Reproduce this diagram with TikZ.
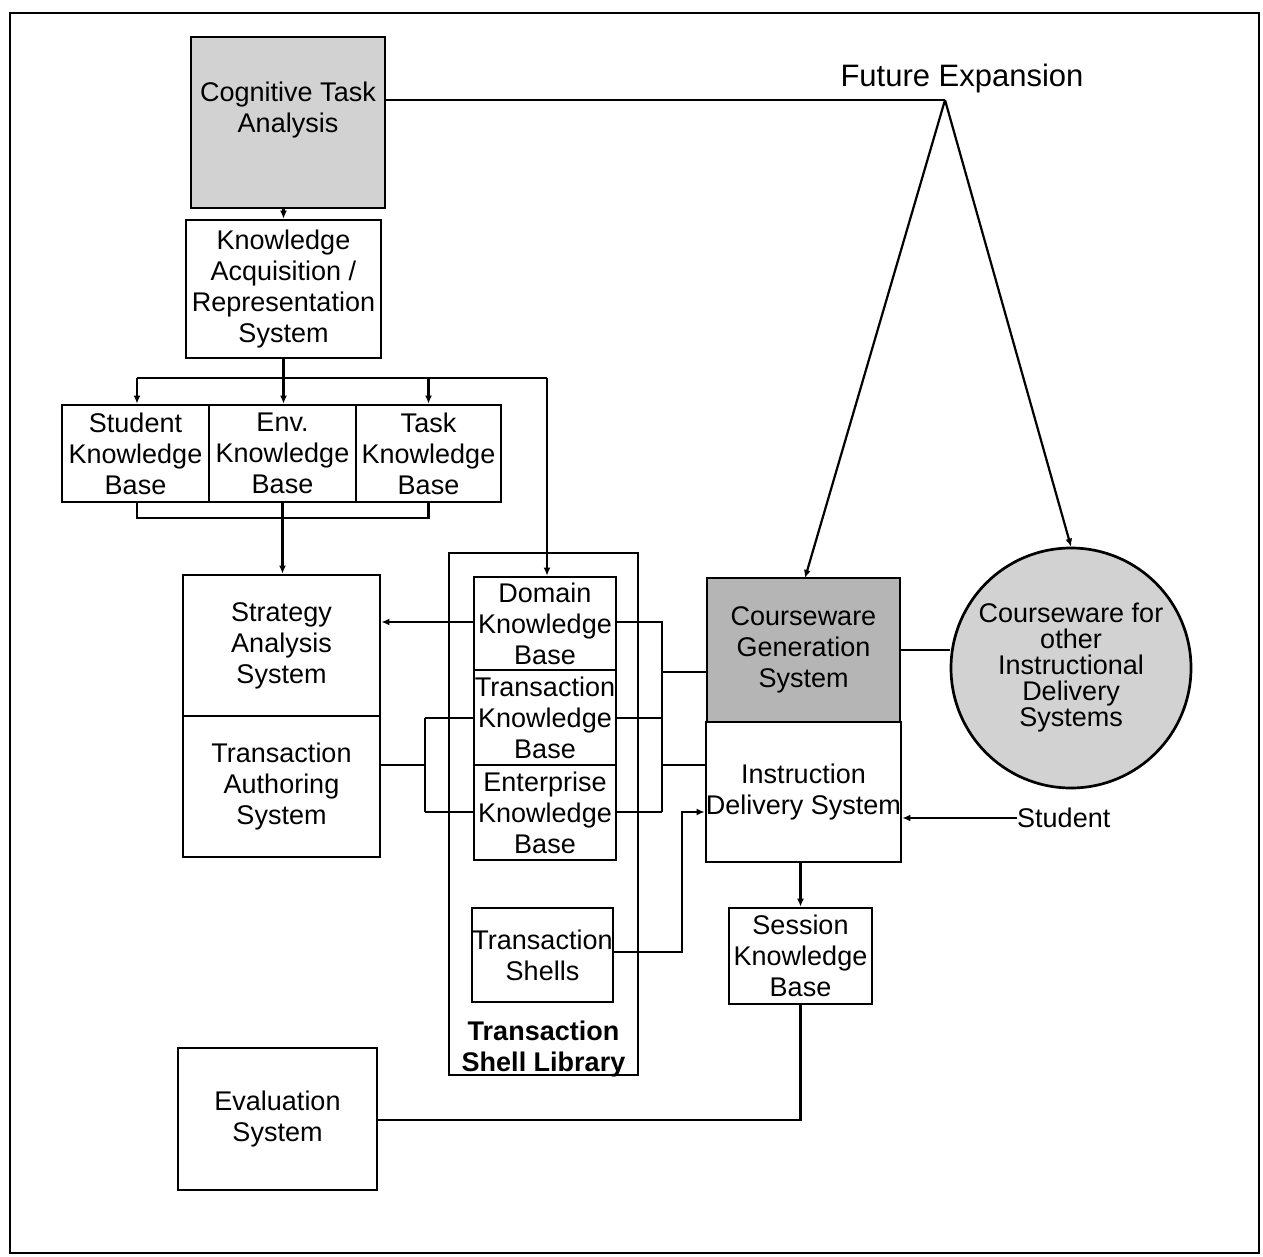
\documentclass[tikz,border=0pt]{standalone}
\usepackage{fontspec}
\setmainfont{Liberation Sans}
\usetikzlibrary{arrows.meta,calc}
\newcommand\diagfont{\fontsize{27}{31}\selectfont}
\begin{document}
\begin{tikzpicture}[x=1pt,y=-1pt,
  box/.style={draw, line width=2.7pt, inner sep=0pt, align=center, font=\diagfont},
  txt/.style={inner sep=0pt, align=center, font=\diagfont},
  link/.style={line width=2.2pt},
  arr/.style={line width=2.2pt, -{Latex[length=8pt,width=7pt]}},
  light/.style={fill=gray!35},
  dark/.style={fill=gray!58}]

% page and outer frame
\useasboundingbox (0,0) rectangle (1263,1257);
\draw[line width=2.6pt] (10,13) rectangle (1259,1253);

% left column
\node[box, light, minimum width=194pt, minimum height=171pt] (cta) at (288,122.5)
  {Cognitive Task\\Analysis\\\mbox{}};
\node[box, minimum width=195pt, minimum height=138pt] (kars) at (283.5,289)
  {Knowledge\\Acquisition /\\Representation\\System};

\node[box, minimum width=147pt, minimum height=97pt] (skb) at (135.5,453.5)
  {Student\\Knowledge\\Base};
\node[box, minimum width=147pt, minimum height=97pt] (ekbase) at (282.5,453.5)
  {Env.\\Knowledge\\Base};
\node[box, minimum width=145pt, minimum height=97pt] (tkbase) at (428.5,453.5)
  {Task\\Knowledge\\Base};

\node[box, minimum width=197pt, minimum height=141pt] (sas) at (281.5,645.5)
  {Strategy\\Analysis\\System};
\node[box, minimum width=197pt, minimum height=141pt] (tas) at (281.5,786.5)
  {Transaction\\Authoring\\System};
\node[box, minimum width=199pt, minimum height=142pt] (eval) at (277.5,1119)
  {Evaluation\\System};

% transaction shell library
\node[draw, line width=2.7pt, minimum width=189pt, minimum height=522pt] (tsl) at (543.5,814) {};
\node[txt, font=\diagfont\bfseries, anchor=south] (tsllabel) at (543.5,1077)
  {Transaction\\Shell Library};
\node[box, fill=white, minimum width=142pt, minimum height=93pt] (dkb) at (545,623.5)
  {Domain\\Knowledge\\Base};
\node[box, fill=white, minimum width=142pt, minimum height=95pt] (trkb) at (545,717.5)
  {Transaction\\Knowledge\\Base};
\node[box, fill=white, minimum width=142pt, minimum height=95pt] (entkb) at (545,812.5)
  {Enterprise\\Knowledge\\Base};
\node[box, fill=white, minimum width=141pt, minimum height=94pt] (tsh) at (542.5,955)
  {Transaction\\Shells};

% right column
\node[box, dark, minimum width=193pt, minimum height=144pt] (cgs) at (803.5,650)
  {Courseware\\Generation\\System};
\node[box, minimum width=193pt, minimum height=140pt] (ids) at (803.5,792)
  {Instruction\\Delivery System};
\node[box, minimum width=143pt, minimum height=96pt] (skbase) at (800.5,956)
  {Session\\Knowledge\\Base};
\node[box, light, circle, minimum size=240pt, font=\fontsize{27}{26}\selectfont] (other) at (1071,668)
  {Courseware for\\other\\Instructional\\Delivery\\Systems};
\node[txt, anchor=west] (student) at (1017,818) {Student};
\node[txt, font=\fontsize{31}{36}\selectfont] (future) at (962,78) {Future Expansion};

% future expansion fan
\coordinate (apex) at (945,100);
\coordinate (cgstop) at (805,578);
\draw[link] (apex -| cta.east) -- (apex);
\draw[arr] (apex) -- (cgstop);
\draw[arr] (apex) -- (other.north);

% acquisition chain
\draw[arr] (cta.south -| kars.north) -- (kars.north);
\coordinate (busl) at (137,378);
\coordinate (busr) at (547,378);
\draw[link] (kars.south) -- (kars.south |- busl);
\draw[link] (busl) -- (busr);
\draw[arr] (busl) -- (busl |- skb.north);
\draw[arr] (kars.south |- busl) -- (kars.south |- ekbase.north);
\draw[arr] (busl -| tkbase.north) -- (tkbase.north);
\draw[arr] (busr) -- (busr |- dkb.north);

% knowledge bases into strategy analysis
\coordinate (kbjoin) at (137,518);
\draw[link] (skb.south -| kbjoin) -- (kbjoin) -- (kbjoin -| tkbase.south) -- (tkbase.south);
\draw[arr] (ekbase.south) -- (ekbase.south |- sas.north);

% domain knowledge to strategy analysis
\draw[arr] (dkb.west |- 0,622) -- (sas.east |- 0,622);

% authoring to transaction / enterprise knowledge
\coordinate (tasbus) at (425,765);
\draw[link] (tas.east |- tasbus) -- (tasbus);
\draw[link] (425,718) -- (425,812);
\draw[link] (425,718) -- (trkb.west |- 0,718);
\draw[link] (425,812) -- (entkb.west |- 0,812);

% knowledge bases to courseware / delivery
\coordinate (kbr) at (662,622);
\draw[link] (dkb.east |- kbr) -- (kbr) -- (662,812);
\draw[link] (trkb.east |- 0,718) -- (662,718);
\draw[link] (entkb.east |- 0,812) -- (662,812);
\draw[link] (662,672) -- (cgs.west |- 0,672);
\draw[link] (662,765) -- (ids.west |- 0,765);

% transaction shells to delivery
\coordinate (tshr) at (682,952);
\draw[arr] (tsh.east |- tshr) -- (tshr) -- (682,812) -- (ids.west |- 0,812);

% courseware to other systems
\draw[link] (cgs.east |- 0,650) -- (other.west |- 0,650);

% student link
\draw[arr] (student.west) -- (ids.east |- student.west);

% delivery to session to evaluation
\draw[arr] (skbase.north |- ids.south) -- (skbase.north);
\coordinate (evalbus) at (800.5,1120);
\draw[link] (skbase.south) -- (evalbus) -- (eval.east |- evalbus);

\end{tikzpicture}
\end{document}
